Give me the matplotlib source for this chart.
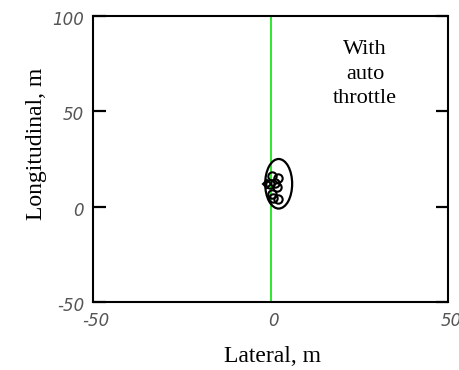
import matplotlib
matplotlib.use('Agg')
import matplotlib.pyplot as plt
import numpy as np
from matplotlib.patches import Ellipse

# touchdown points (lateral, longitudinal) in m
lat_pts = [0.3, 2.1, 1.3, -0.1, 1.7, 0.3, 2.1, 0.7]
lon_pts = [16.3, 15.2, 12.6, 12.1, 10.1, 6.8, 4.2, 4.7]
diamond_lat = [-1.1]
diamond_lon = [12.1]

# dispersion ellipse
ell_center = (2.3, 12.0)
ell_width = 7.6
ell_height = 26.0

xticks = [-50, 0, 50]
yticks = [-50, 0, 50, 100]

fig = plt.figure(figsize=(4.59, 3.70), dpi=100)
ax = fig.add_axes([93/459, 68/370, 355/459, 286/370])
ax.set_xlim(-50, 50)
ax.set_ylim(-50, 100)

ax.axvline(0, color='#2ee82e', lw=1.4, zorder=1)
ax.add_patch(Ellipse(ell_center, ell_width, ell_height, fill=False,
                     edgecolor='black', lw=1.6, zorder=3))
ax.plot(lat_pts, lon_pts, 'o', mfc='none', mec='black', ms=6, mew=1.5, zorder=4)
ax.plot(diamond_lat, diamond_lon, 'D', mfc='none', mec='black', ms=4.5, mew=1.5, zorder=4)

for s in ax.spines.values():
    s.set_linewidth(1.5)

ax.set_xticks(xticks)
ax.set_xticklabels([])
ax.tick_params(axis='x', length=0)
ax.set_yticks(yticks)
ax.set_yticklabels([])
ax.tick_params(axis='y', direction='in', length=9, width=1.6, left=True, right=True)

tick_font = dict(fontsize=12, style='italic', color='#555555', family='DejaVu Sans')
for v in yticks:
    ax.text(-9/355, (v + 50) / 150 - 4/286, str(v), transform=ax.transAxes,
            ha='right', va='center', **tick_font)
for v in xticks:
    ax.text((v + 50) / 100 + 3/355, -10/286, str(v), transform=ax.transAxes,
            ha='center', va='top', clip_on=False, **tick_font)

ax.text(365/459, 1 - 40/370, 'With\nauto\nthrottle', transform=fig.transFigure,
        ha='center', va='top', fontsize=16, family='Liberation Serif',
        linespacing=1.4)

fig.text(272/459, 1 - 357/370, 'Lateral, m', ha='center', va='center',
         fontsize=17, family='Liberation Serif')
fig.text(37/459, 1 - 144/370, 'Longitudinal, m', ha='center', va='center',
         rotation=90, fontsize=17, family='Liberation Serif')

fig.savefig('out.png', dpi=100)
